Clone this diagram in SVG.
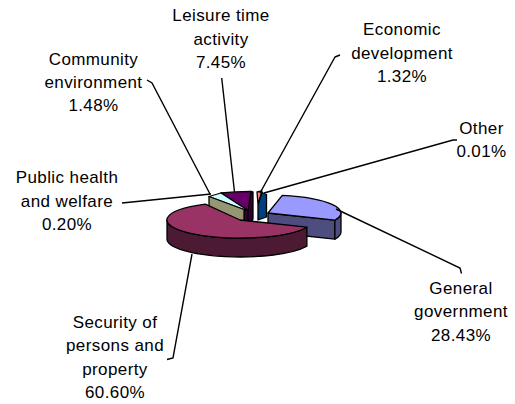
<svg xmlns="http://www.w3.org/2000/svg" width="515" height="404" viewBox="0 0 515 404">
<style>
  .s{stroke:#000;stroke-width:1.3;stroke-linejoin:round}
  .lbl{font-family:"Liberation Sans",Arial,sans-serif;font-size:17px;letter-spacing:0.4px;fill:#000;text-anchor:middle}
  .lead{fill:none;stroke:#000;stroke-width:1.4}
</style>
<rect width="515" height="404" fill="#fff"/>
<g id="slice-general-government">
  <path class="s" fill="#4D4D80" d="M268,213 L334.9,220.2 L334.9,239.2 L268,232 Z"/>
  <path class="s" fill="#4D4D80" d="M341,213 A73,18 0 0 1 334.9,220.2 L334.9,239.2 A73,18 0 0 0 341,232 Z"/>
  <path class="s" fill="#9999FF" d="M268,213 L282.3,195.4 A73,18 0 0 1 334.9,220.2 Z"/>
  <text class="lbl" x="461" y="293.5">General</text>
  <text class="lbl" x="461" y="317">government</text>
  <text class="lbl" x="461" y="340.5">28.43%</text>
</g>
<g id="slice-leisure">
  <path class="s" fill="#330033" d="M221,193 L248,210.5 L248,229.5 L221,212 Z"/>
  <path class="s" fill="#330033" d="M248,210.5 L251,191.5 L253,192 L253,219 L248,229.5 Z"/>
  <path class="s" fill="#660066" d="M248,210.5 L221,193 A73,18 0 0 1 251,191.5 Z"/>
  <text class="lbl" x="221" y="21">Leisure time</text>
  <text class="lbl" x="221" y="44.5">activity</text>
  <text class="lbl" x="221" y="68">7.45%</text>
</g>
<g id="slice-economic">
  <path class="s" fill="#FF8080" d="M257,192 L262,191 L258,204 Z"/>
  <text class="lbl" x="402" y="35">Economic</text>
  <text class="lbl" x="402" y="58.5">development</text>
  <text class="lbl" x="402" y="82">1.32%</text>
</g>
<g id="slice-other">
  <path class="s" fill="#004080" d="M258,205 L262,192.5 L266.5,194.5 L266.5,217 L258,220 Z"/>
  <text class="lbl" x="481.5" y="133.5">Other</text>
  <text class="lbl" x="481.5" y="157">0.01%</text>
</g>
<g id="slice-community">
  <path class="s" fill="#CCFFFF" d="M209,196.5 L221,193 L248,210.5 L244,209.5 Z"/>
  <text class="lbl" x="93.5" y="65">Community</text>
  <text class="lbl" x="93.5" y="88">environment</text>
  <text class="lbl" x="93.5" y="111">1.48%</text>
</g>
<g id="slice-public-health">
  <path class="s" fill="#969673" d="M209,196.5 L244,209.5 L244,228.5 L209,215.5 Z"/>
  <text class="lbl" x="67" y="183">Public health</text>
  <text class="lbl" x="67" y="206.5">and welfare</text>
  <text class="lbl" x="67" y="230">0.20%</text>
</g>
<g id="slice-security">
  <path class="s" fill="#4D1A33" d="M306.9,227.2 A73,18 0 0 1 167,220 L167,239 A73,18 0 0 0 306.9,246.2 Z"/>
  <path class="s" fill="#993366" d="M240,220 L306.9,227.2 A73,18 0 1 1 205.3,204.2 Z"/>
  <text class="lbl" x="115" y="327.5">Security of</text>
  <text class="lbl" x="115" y="351">persons and</text>
  <text class="lbl" x="115" y="374.5">property</text>
  <text class="lbl" x="115" y="398">60.60%</text>
</g>
<g id="connectors">
  <polyline class="lead" points="147,80 152,83 210,194"/>
  <polyline class="lead" points="221.7,78 234.5,192"/>
  <polyline class="lead" points="335,57 340,55 335,57 260,193"/>
  <polyline class="lead" points="457,140 453,140 264,193"/>
  <polyline class="lead" points="336,209 460,268 461.5,273.5"/>
  <polyline class="lead" points="192,254 173,358 167,359.5"/>
  <polyline class="lead" points="122,203 211,194"/>
</g>
</svg>
